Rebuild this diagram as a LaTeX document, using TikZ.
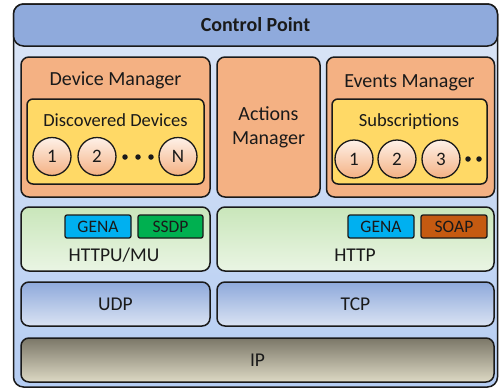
\documentclass[tikz,border=0pt]{standalone}
\usepackage{fontspec}
\setmainfont{Carlito}
\definecolor{titleblue}{HTML}{8FAADC}
\definecolor{bodytop}{HTML}{DCE6F6}
\definecolor{bodybot}{HTML}{B5CDF3}
\definecolor{mgr}{HTML}{F4B183}
\definecolor{yel}{HTML}{FFD966}
\definecolor{circtop}{HTML}{FEF1E8}
\definecolor{circbot}{HTML}{F4B183}
\definecolor{grntop}{HTML}{C9E6BA}
\definecolor{grnbot}{HTML}{EAF5E4}
\definecolor{bluetop}{HTML}{8EA9DB}
\definecolor{bluebot}{HTML}{DAE3F3}
\definecolor{iptop}{HTML}{7B7768}
\definecolor{ipbot}{HTML}{DDD9C4}
\definecolor{gena}{HTML}{00B0F0}
\definecolor{ssdp}{HTML}{00B050}
\definecolor{soap}{HTML}{C55A11}
\definecolor{ink}{HTML}{1A1A1A}
\tikzset{
  box/.style={draw=ink, line width=1.5pt, rounded corners=8pt, inner sep=0pt, text=ink},
  mgrbox/.style={box, fill=mgr, minimum height=140pt},
  listbox/.style={box, rounded corners=6pt, fill=yel, minimum height=85pt},
  circ/.style={circle, draw=ink, line width=1.3pt, minimum size=38pt, inner sep=0pt,
    top color=circtop, bottom color=circbot, text=ink, font=\fontsize{19}{22}\selectfont},
  dotn/.style={circle, fill=ink, inner sep=0pt, minimum size=5.5pt},
  greenbox/.style={box, top color=grntop, bottom color=grnbot, minimum height=64pt},
  bluebox/.style={box, top color=bluetop, bottom color=bluebot, minimum height=44pt},
  tag/.style={box, rounded corners=2pt, line width=1.3pt, minimum height=23pt,
    font=\fontsize{17.5}{20}\selectfont},
  txt/.style={text=ink, inner sep=0pt, anchor=base, font=\fontsize{19.5}{23}\selectfont},
  mtxt/.style={txt, font=\fontsize{20}{24}\selectfont},
  ltxt/.style={txt, font=\fontsize{18.5}{22}\selectfont},
}
\begin{document}
\begin{tikzpicture}[x=1pt,y=-1pt]
\useasboundingbox (0,0) rectangle (499,389);
% outer frame
\node[box, rounded corners=10pt, top color=bodytop, bottom color=bodybot,
  minimum width=484pt, minimum height=383pt] (cp) at (255.5,195.5) {};
\node[box, rounded corners=10pt, fill=titleblue, minimum width=484pt, minimum height=42pt,
  font=\bfseries\fontsize{20}{24}\selectfont] (title) at (255.5,25) {Control Point};
% device manager
\node[mgrbox, minimum width=189pt] (dm) at (115.5,127) {};
\node[mtxt] (dmt) at (115.5,85.7) {Device Manager};
\node[listbox, minimum width=177pt] (dd) at (115.5,141.5) {};
\node[ltxt] (ddt) at (115.5,126.5) {Discovered Devices};
\node[circ] (d1) at (52,156.5) {1};
\node[circ] (d2) at (97,156.5) {2};
\node[circ] (dn) at (178,156.5) {N};
\node[dotn] (dd1) at (125,157) {};
\node[dotn] (dd2) at (138,157) {};
\node[dotn] (dd3) at (151,157) {};
% actions manager
\node[mgrbox, minimum width=103pt, align=center,
  font=\fontsize{20}{24}\selectfont] (am) at (268.5,127) {Actions\\Manager};
% events manager
\node[mgrbox, minimum width=168pt] (em) at (410.5,127) {};
\node[mtxt] (emt) at (409.5,87.5) {Events Manager};
\node[listbox, minimum width=155pt] (sub) at (409.5,141.5) {};
\node[ltxt] (subt) at (409,126) {Subscriptions};
\node[circ] (s1) at (354,159) {1};
\node[circ] (s2) at (397,159) {2};
\node[circ] (s3) at (441,159) {3};
\node[dotn] (sd1) at (468,159) {};
\node[dotn] (sd2) at (479,159) {};
% HTTPU/MU
\node[greenbox, minimum width=189pt] (httpu) at (115.5,239) {};
\node[tag, fill=gena, minimum width=66pt] (gena1) at (98,226.5) {GENA};
\node[tag, fill=ssdp, minimum width=65pt] (ssdpn) at (170.5,226.5) {SSDP};
\node[txt] (httput) at (114,261.7) {HTTPU/MU};
% HTTP
\node[greenbox, minimum width=277pt] (http) at (355.5,239) {};
\node[tag, fill=gena, minimum width=66pt] (gena2) at (381,226.5) {GENA};
\node[tag, fill=soap, minimum width=66pt] (soapn) at (454,226.5) {SOAP};
\node[txt] (httpt) at (355,261.7) {HTTP};
% UDP / TCP / IP
\node[bluebox, minimum width=189pt] (udp) at (115.5,304) {};
\node[txt] (udpt) at (115.5,310) {UDP};
\node[bluebox, minimum width=277pt] (tcp) at (355.5,304) {};
\node[txt] (tcpt) at (355.5,310) {TCP};
\node[box, top color=iptop, bottom color=ipbot, minimum width=473pt, minimum height=44pt] (ip) at (257.5,360) {};
\node[txt] (ipt) at (257.5,366) {IP};
\end{tikzpicture}
\end{document}
